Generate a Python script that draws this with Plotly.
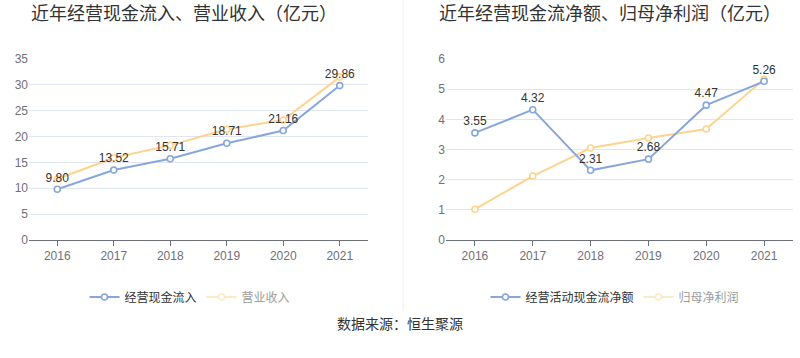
import plotly.graph_objects as go

years = ["2016", "2017", "2018", "2019", "2020", "2021"]
cash_inflow = [9.80, 13.52, 15.71, 18.71, 21.16, 29.86]
revenue = [11.8, 15.9, 18.3, 21.4, 23.2, 31.5]
net_cash_flow = [3.55, 4.32, 2.31, 2.68, 4.47, 5.26]
net_profit = [1.02, 2.12, 3.05, 3.38, 3.68, 5.33]

BLUE = "#87a7dc"
ORANGE = "#fcd48f"
FONT = "Liberation Sans, Noto Sans CJK SC, sans-serif"
H = 358
xs = list(range(len(years)))

def fy(px):
    return (H - px) / H

fig = go.Figure()

def add_line(x_ax, y_ax, vals, color, name, legend, labels):
    fig.add_trace(go.Scatter(
        x=xs, y=vals, xaxis=x_ax, yaxis=y_ax, mode="lines+markers+text" if labels else "lines+markers",
        line=dict(color=color, width=2),
        marker=dict(symbol="circle", size=6, color="white", line=dict(color=color, width=1.6)),
        text=[f"{v:.2f}" for v in vals] if labels else None,
        textposition="top center", textfont=dict(size=12, color="#333", family=FONT),
        name=name, legend=legend, showlegend=labels, cliponaxis=False,
    ))

def add_legend_dummy(vals, color, name, legend, x_ax, y_ax):
    fig.add_trace(go.Scatter(
        x=xs, y=vals, xaxis=x_ax, yaxis=y_ax, mode="lines+markers",
        line=dict(color=color, width=2),
        marker=dict(symbol="circle", size=6, color="white", line=dict(color=color, width=1.6)),
        name=name, legend=legend, visible="legendonly",
    ))

add_line("x", "y", revenue, ORANGE, "营业收入", "legend", False)
add_line("x", "y", cash_inflow, BLUE, "经营现金流入", "legend", True)
add_legend_dummy(revenue, ORANGE, "营业收入", "legend", "x", "y")

add_line("x2", "y2", net_profit, ORANGE, "归母净利润", "legend2", False)
add_line("x2", "y2", net_cash_flow, BLUE, "经营活动现金流净额", "legend2", True)
add_legend_dummy(net_profit, ORANGE, "归母净利润", "legend2", "x2", "y2")

xcommon = dict(range=[-0.5, 5.5], tickvals=xs, ticktext=years, showgrid=False,
               showline=True, linecolor="#6e7079", linewidth=1,
               ticks="outside", ticklen=5, tickcolor="#6e7079", tickwidth=1,
               tickfont=dict(size=12, color="#6e7079", family=FONT), zeroline=False,
               fixedrange=True, automargin=False)
ycommon = dict(showgrid=True, gridcolor="#e0e6f1", gridwidth=1, showline=False, zeroline=False,
               tickfont=dict(size=12, color="#6e7079", family=FONT), ticks="", automargin=False)

ydom = [fy(240), fy(59)]
fig.update_layout(
    width=800, height=358,
    margin=dict(l=0, r=0, t=0, b=0, pad=0, autoexpand=False),
    paper_bgcolor="white", plot_bgcolor="white",
    font=dict(family=FONT),
    xaxis=dict(domain=[29/800, 368/800], anchor="y", **xcommon),
    yaxis=dict(domain=ydom, anchor="x", range=[0, 35], dtick=5, **ycommon),
    xaxis2=dict(domain=[446/800, 793/800], anchor="y2", **xcommon),
    yaxis2=dict(domain=ydom, anchor="x2", range=[0, 6], dtick=1, **ycommon),
    legend=dict(orientation="h", x=190/800, xanchor="center", y=fy(297), yanchor="middle",
                font=dict(size=12, color="#333", family=FONT), itemwidth=30, bgcolor="rgba(0,0,0,0)"),
    legend2=dict(orientation="h", x=615/800, xanchor="center", y=fy(297), yanchor="middle",
                 font=dict(size=12, color="#333", family=FONT), itemwidth=30, bgcolor="rgba(0,0,0,0)"),
    showlegend=True,
    annotations=[
        dict(text="近年经营现金流入、营业收入（亿元）", x=184/800, y=fy(14), xref="paper", yref="paper",
             showarrow=False, xanchor="center", yanchor="middle", font=dict(size=18, color="#333", family=FONT)),
        dict(text="近年经营现金流净额、归母净利润（亿元）", x=610/800, y=fy(14), xref="paper", yref="paper",
             showarrow=False, xanchor="center", yanchor="middle", font=dict(size=18, color="#333", family=FONT)),
        dict(text="数据来源：恒生聚源", x=400/800, y=fy(324), xref="paper", yref="paper",
             showarrow=False, xanchor="center", yanchor="middle", font=dict(size=14, color="#333", family=FONT)),
    ],
    shapes=[dict(type="line", xref="paper", yref="paper", x0=403/800, x1=403/800, y0=fy(311), y1=1,
                 line=dict(color="#eeeeee", width=1))],
)

fig.write_html(
    "out.html",
    config={"responsive": False, "displayModeBar": False},
    post_script="document.body.style.margin='0';document.body.style.padding='0';document.body.style.overflow='hidden';",
)
